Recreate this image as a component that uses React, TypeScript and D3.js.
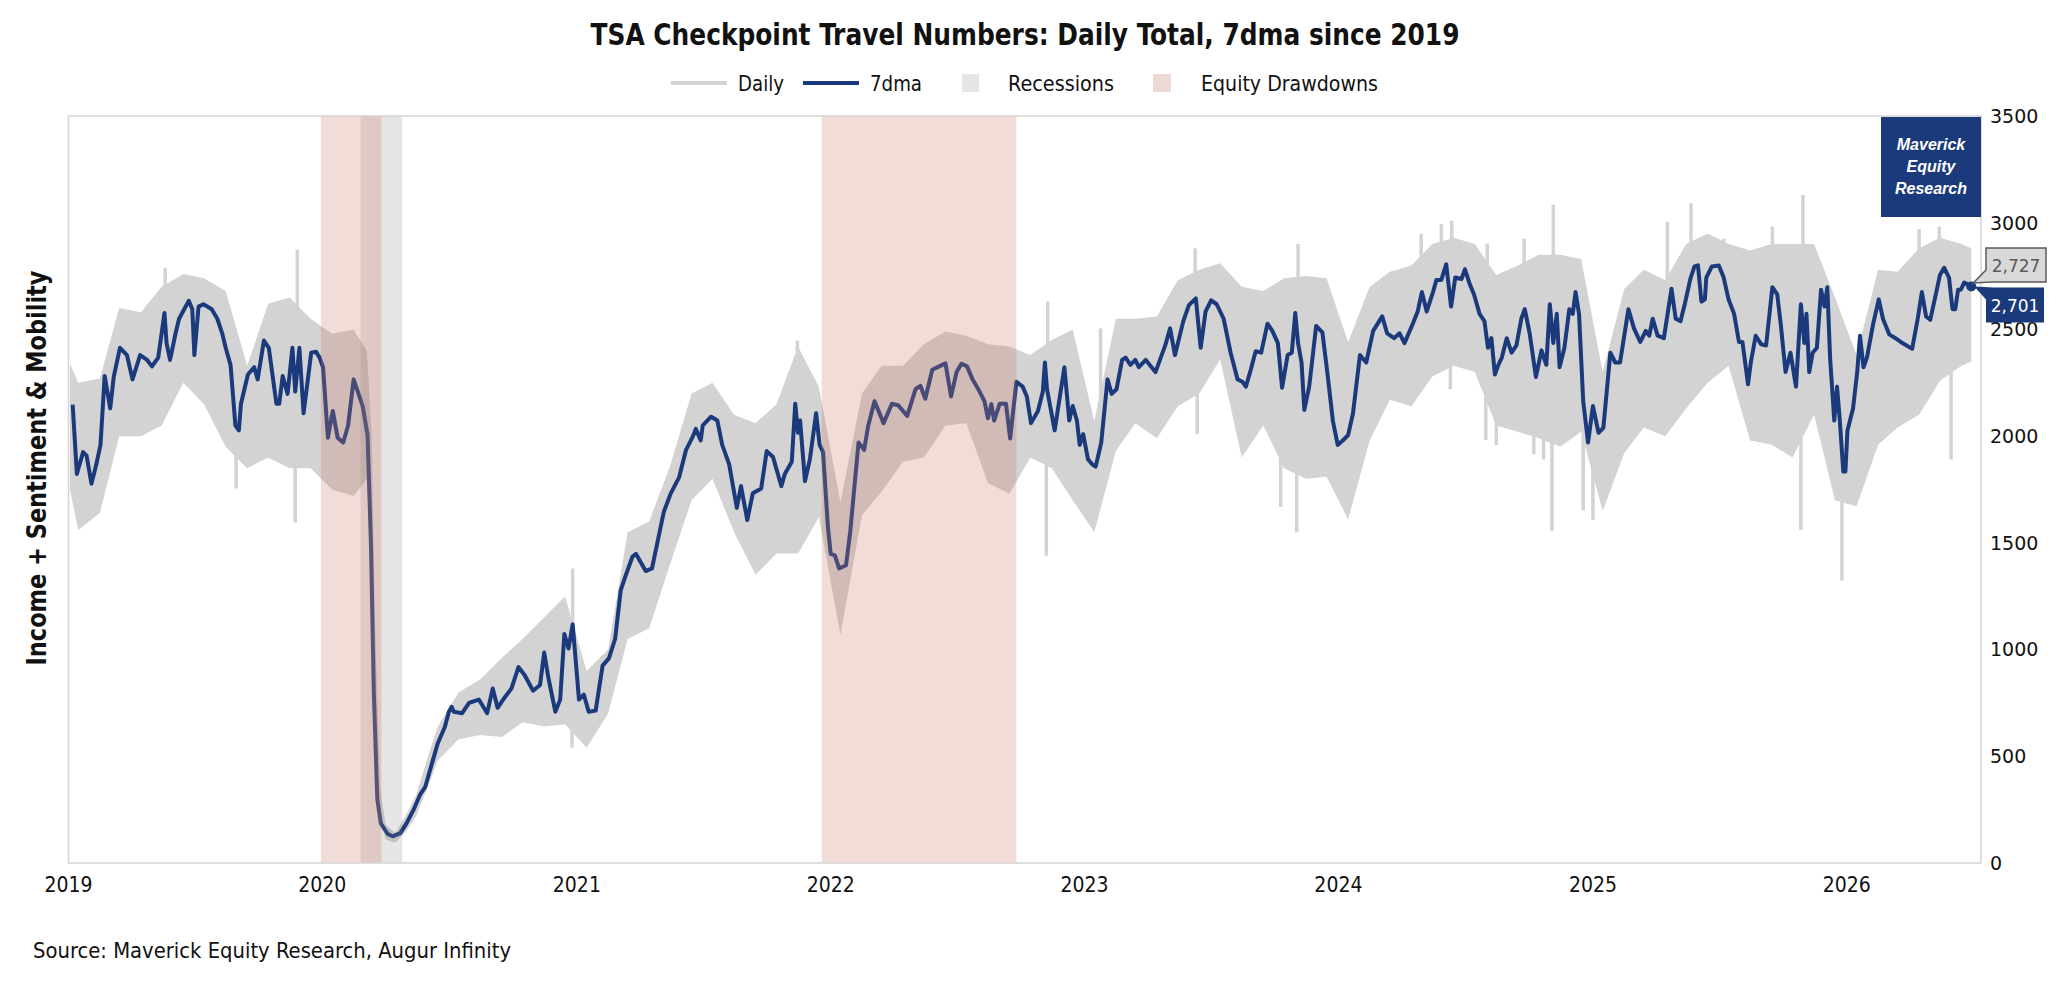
import React, { useEffect, useRef } from "react";
import * as d3 from "d3";

const WIDTH = 2066;
const HEIGHT = 985;

// 7-day moving average (thousands)
const ma7: [string, number][] = [
	["2019-01-07", 2148], ["2019-01-13", 1823], ["2019-01-17", 1868], ["2019-01-22", 1925], ["2019-01-27", 1909],
	["2019-02-03", 1777], ["2019-02-10", 1868], ["2019-02-16", 1959], ["2019-02-22", 2282], ["2019-03-02", 2130],
	["2019-03-07", 2277], ["2019-03-16", 2414], ["2019-03-26", 2380], ["2019-04-03", 2266], ["2019-04-14", 2380],
	["2019-04-24", 2357], ["2019-05-01", 2327], ["2019-05-10", 2368], ["2019-05-19", 2577], ["2019-05-22", 2436],
	["2019-05-27", 2357], ["2019-06-04", 2482], ["2019-06-09", 2550], ["2019-06-23", 2634], ["2019-06-28", 2595],
	["2019-07-01", 2380], ["2019-07-07", 2607], ["2019-07-14", 2618], ["2019-07-26", 2595], ["2019-08-03", 2550],
	["2019-08-10", 2482], ["2019-08-15", 2414], ["2019-08-22", 2334], ["2019-08-29", 2050], ["2019-09-03", 2027],
	["2019-09-06", 2152], ["2019-09-16", 2289], ["2019-09-25", 2323], ["2019-09-30", 2266], ["2019-10-09", 2448],
	["2019-10-16", 2414], ["2019-10-27", 2152], ["2019-10-31", 2152], ["2019-11-05", 2282], ["2019-11-12", 2198],
	["2019-11-19", 2414], ["2019-11-23", 2209], ["2019-11-29", 2414], ["2019-12-05", 2107], ["2019-12-16", 2391],
	["2019-12-23", 2395], ["2019-12-28", 2368], ["2020-01-02", 2323], ["2020-01-09", 1993], ["2020-01-16", 2118],
	["2020-01-23", 1993], ["2020-01-31", 1970], ["2020-02-07", 2050], ["2020-02-15", 2266], ["2020-02-21", 2209],
	["2020-02-28", 2141], ["2020-03-06", 2005], ["2020-03-11", 1482], ["2020-03-15", 800], ["2020-03-20", 300],
	["2020-03-25", 186], ["2020-04-04", 136], ["2020-04-11", 125], ["2020-04-22", 140], ["2020-05-01", 186],
	["2020-05-12", 255], ["2020-05-21", 323], ["2020-05-28", 357], ["2020-06-08", 482], ["2020-06-15", 561],
	["2020-06-25", 636], ["2020-07-01", 709], ["2020-07-05", 732], ["2020-07-08", 709], ["2020-07-20", 702],
	["2020-07-30", 750], ["2020-08-13", 766], ["2020-08-25", 702], ["2020-09-02", 818], ["2020-09-09", 727],
	["2020-09-17", 766], ["2020-09-29", 818], ["2020-10-09", 918], ["2020-10-18", 880], ["2020-10-30", 807],
	["2020-11-09", 834], ["2020-11-15", 986], ["2020-11-21", 868], ["2020-12-01", 709], ["2020-12-08", 766],
	["2020-12-14", 1073], ["2020-12-20", 1005], ["2020-12-26", 1118], ["2021-01-04", 766], ["2021-01-11", 789],
	["2021-01-18", 709], ["2021-01-28", 714], ["2021-02-07", 925], ["2021-02-16", 959], ["2021-02-25", 1050],
	["2021-03-05", 1277], ["2021-03-12", 1345], ["2021-03-22", 1436], ["2021-03-27", 1448], ["2021-04-10", 1368],
	["2021-04-19", 1380], ["2021-04-27", 1505], ["2021-05-06", 1645], ["2021-05-16", 1732], ["2021-05-28", 1807],
	["2021-06-07", 1936], ["2021-06-17", 2000], ["2021-06-21", 2034], ["2021-06-28", 1980], ["2021-07-01", 2050],
	["2021-07-13", 2091], ["2021-07-22", 2073], ["2021-07-29", 1959], ["2021-08-08", 1868], ["2021-08-19", 1664],
	["2021-08-25", 1766], ["2021-09-03", 1607], ["2021-09-11", 1732], ["2021-09-23", 1755], ["2021-10-01", 1930],
	["2021-10-10", 1902], ["2021-10-22", 1766], ["2021-10-27", 1823], ["2021-11-06", 1880], ["2021-11-11", 2152],
	["2021-11-15", 2016], ["2021-11-18", 2073], ["2021-11-25", 1789], ["2021-12-02", 1891], ["2021-12-11", 2107],
	["2021-12-16", 1959], ["2021-12-21", 1925], ["2021-12-28", 1573], ["2022-01-01", 1448], ["2022-01-07", 1441],
	["2022-01-13", 1380], ["2022-01-23", 1395], ["2022-01-29", 1550], ["2022-02-10", 1970], ["2022-02-18", 1936],
	["2022-02-24", 2050], ["2022-03-05", 2164], ["2022-03-18", 2061], ["2022-03-30", 2152], ["2022-04-08", 2145],
	["2022-04-21", 2095], ["2022-05-03", 2220], ["2022-05-10", 2236], ["2022-05-17", 2175], ["2022-05-27", 2311],
	["2022-06-06", 2327], ["2022-06-15", 2341], ["2022-06-23", 2186], ["2022-07-01", 2300], ["2022-07-08", 2339],
	["2022-07-16", 2327], ["2022-07-24", 2266], ["2022-08-03", 2209], ["2022-08-10", 2164], ["2022-08-15", 2084],
	["2022-08-20", 2150], ["2022-08-24", 2073], ["2022-09-01", 2152], ["2022-09-10", 2152], ["2022-09-16", 1989],
	["2022-09-25", 2255], ["2022-10-04", 2232], ["2022-10-10", 2186], ["2022-10-16", 2061], ["2022-10-26", 2118],
	["2022-11-02", 2209], ["2022-11-05", 2345], ["2022-11-08", 2220], ["2022-11-19", 2027], ["2022-12-03", 2323],
	["2022-12-10", 2073], ["2022-12-15", 2141], ["2022-12-21", 2073], ["2022-12-25", 1959], ["2022-12-30", 2009],
	["2023-01-06", 1891], ["2023-01-12", 1868], ["2023-01-17", 1857], ["2023-01-25", 1970], ["2023-02-03", 2266],
	["2023-02-09", 2198], ["2023-02-16", 2220], ["2023-02-24", 2357], ["2023-03-01", 2368], ["2023-03-08", 2334],
	["2023-03-15", 2357], ["2023-03-20", 2323], ["2023-03-30", 2357], ["2023-04-13", 2300], ["2023-04-27", 2425],
	["2023-05-04", 2505], ["2023-05-11", 2380], ["2023-05-23", 2539], ["2023-05-31", 2614], ["2023-06-10", 2645],
	["2023-06-17", 2414], ["2023-06-24", 2584], ["2023-07-02", 2636], ["2023-07-10", 2618], ["2023-07-20", 2550],
	["2023-07-30", 2391], ["2023-08-09", 2266], ["2023-08-16", 2255], ["2023-08-21", 2232], ["2023-08-28", 2311],
	["2023-09-04", 2398], ["2023-09-12", 2391], ["2023-09-21", 2527], ["2023-09-28", 2493], ["2023-10-06", 2436],
	["2023-10-12", 2227], ["2023-10-20", 2380], ["2023-10-26", 2391], ["2023-10-31", 2577], ["2023-11-04", 2436],
	["2023-11-09", 2345], ["2023-11-13", 2123], ["2023-11-20", 2232], ["2023-11-30", 2516], ["2023-12-09", 2486],
	["2023-12-16", 2300], ["2023-12-24", 2073], ["2023-12-31", 1959], ["2024-01-08", 1982], ["2024-01-15", 2005],
	["2024-01-22", 2107], ["2024-02-01", 2380], ["2024-02-10", 2345], ["2024-02-20", 2493], ["2024-03-04", 2561],
	["2024-03-11", 2482], ["2024-03-21", 2459], ["2024-03-29", 2482], ["2024-04-05", 2436], ["2024-04-17", 2527],
	["2024-04-24", 2584], ["2024-04-30", 2675], ["2024-05-07", 2584], ["2024-05-16", 2675], ["2024-05-21", 2732],
	["2024-05-28", 2732], ["2024-06-04", 2805], ["2024-06-11", 2607], ["2024-06-17", 2743], ["2024-06-26", 2736],
	["2024-07-01", 2782], ["2024-07-07", 2720], ["2024-07-14", 2664], ["2024-07-22", 2573], ["2024-07-29", 2539],
	["2024-08-03", 2414], ["2024-08-08", 2459], ["2024-08-13", 2289], ["2024-08-18", 2334], ["2024-08-23", 2368],
	["2024-08-30", 2459], ["2024-09-06", 2391], ["2024-09-13", 2425], ["2024-09-20", 2550], ["2024-09-25", 2595],
	["2024-10-02", 2482], ["2024-10-11", 2277], ["2024-10-19", 2402], ["2024-10-26", 2334], ["2024-10-31", 2618],
	["2024-11-05", 2436], ["2024-11-10", 2573], ["2024-11-14", 2323], ["2024-11-21", 2414], ["2024-11-28", 2595],
	["2024-12-03", 2573], ["2024-12-07", 2675], ["2024-12-12", 2573], ["2024-12-18", 2164], ["2024-12-25", 1970],
	["2025-01-01", 2141], ["2025-01-09", 2016], ["2025-01-16", 2039], ["2025-01-26", 2391], ["2025-02-02", 2345],
	["2025-02-09", 2345], ["2025-02-21", 2595], ["2025-03-01", 2505], ["2025-03-10", 2441], ["2025-03-18", 2493],
	["2025-03-23", 2471], ["2025-03-28", 2550], ["2025-04-04", 2471], ["2025-04-13", 2459], ["2025-04-24", 2691],
	["2025-04-30", 2550], ["2025-05-07", 2539], ["2025-05-13", 2618], ["2025-05-21", 2736], ["2025-05-27", 2795],
	["2025-06-01", 2800], ["2025-06-06", 2630], ["2025-06-11", 2641], ["2025-06-13", 2743], ["2025-06-21", 2795],
	["2025-07-01", 2800], ["2025-07-08", 2743], ["2025-07-15", 2641], ["2025-07-23", 2573], ["2025-07-30", 2441],
	["2025-08-04", 2441], ["2025-08-12", 2243], ["2025-08-16", 2345], ["2025-08-23", 2470], ["2025-08-31", 2430],
	["2025-09-07", 2425], ["2025-09-16", 2698], ["2025-09-23", 2664], ["2025-09-28", 2527], ["2025-10-05", 2300],
	["2025-10-12", 2391], ["2025-10-20", 2232], ["2025-10-27", 2618], ["2025-11-01", 2436], ["2025-11-04", 2573],
	["2025-11-08", 2300], ["2025-11-13", 2391], ["2025-11-19", 2414], ["2025-11-25", 2686], ["2025-11-30", 2607],
	["2025-12-04", 2698], ["2025-12-08", 2368], ["2025-12-14", 2073], ["2025-12-18", 2232], ["2025-12-22", 2073],
	["2025-12-27", 1834], ["2025-12-30", 1834], ["2026-01-02", 2027], ["2026-01-10", 2130], ["2026-01-16", 2300],
	["2026-01-20", 2470], ["2026-01-25", 2323], ["2026-01-30", 2368], ["2026-02-08", 2527], ["2026-02-16", 2641],
	["2026-02-22", 2550], ["2026-03-03", 2477], ["2026-03-12", 2459], ["2026-03-22", 2436], ["2026-04-05", 2409],
	["2026-04-13", 2550], ["2026-04-19", 2675], ["2026-04-25", 2561], ["2026-05-01", 2545], ["2026-05-09", 2664],
	["2026-05-15", 2755], ["2026-05-21", 2789], ["2026-05-28", 2743], ["2026-06-02", 2595], ["2026-06-06", 2595],
	["2026-06-10", 2686], ["2026-06-14", 2686], ["2026-06-19", 2720], ["2026-06-29", 2701],
];

// daily series: typical upper / lower swing of the daily readings
const dailyBand: [string, number, number][] = [
	["2019-01-03", 2340, 1750], ["2019-01-15", 2250, 1560], ["2019-02-15", 2270, 1640], ["2019-03-15", 2600, 2000],
	["2019-04-15", 2580, 2000], ["2019-05-15", 2700, 2050], ["2019-06-15", 2760, 2250], ["2019-07-15", 2740, 2150],
	["2019-08-15", 2680, 1950], ["2019-09-15", 2330, 1850], ["2019-10-15", 2620, 1900], ["2019-11-15", 2650, 1850],
	["2019-12-15", 2550, 1850], ["2020-01-15", 2480, 1750], ["2020-02-15", 2500, 1720], ["2020-03-05", 2400, 1800],
	["2020-03-12", 2000, 1400], ["2020-03-17", 1100, 700], ["2020-03-24", 350, 230], ["2020-04-01", 180, 110],
	["2020-04-15", 140, 95], ["2020-05-01", 230, 150], ["2020-05-15", 320, 220], ["2020-06-01", 500, 360],
	["2020-06-15", 640, 480], ["2020-07-15", 800, 580], ["2020-08-15", 860, 600], ["2020-09-15", 960, 590],
	["2020-10-15", 1050, 660], ["2020-11-15", 1150, 640], ["2020-12-15", 1250, 650], ["2021-01-15", 900, 540],
	["2021-02-15", 1000, 700], ["2021-03-15", 1550, 1050], ["2021-04-15", 1600, 1100], ["2021-05-15", 1860, 1400],
	["2021-06-15", 2200, 1700], ["2021-07-15", 2250, 1800], ["2021-08-15", 2100, 1550], ["2021-09-15", 2060, 1350],
	["2021-10-15", 2150, 1450], ["2021-11-15", 2420, 1450], ["2021-12-15", 2230, 1620], ["2022-01-15", 1690, 1070],
	["2022-02-15", 2200, 1630], ["2022-03-15", 2330, 1740], ["2022-04-15", 2330, 1880], ["2022-05-15", 2430, 1900],
	["2022-06-15", 2490, 2050], ["2022-07-15", 2470, 2060], ["2022-08-15", 2430, 1780], ["2022-09-15", 2420, 1730],
	["2022-10-15", 2380, 1900], ["2022-11-15", 2450, 1850], ["2022-12-15", 2500, 1700], ["2023-01-15", 2070, 1550],
	["2023-02-15", 2550, 1930], ["2023-03-15", 2550, 2060], ["2023-04-15", 2560, 1990], ["2023-05-15", 2730, 2140],
	["2023-06-15", 2780, 2200], ["2023-07-15", 2810, 2360], ["2023-08-15", 2700, 1900], ["2023-09-15", 2680, 2050],
	["2023-10-15", 2740, 1850], ["2023-11-15", 2750, 1800], ["2023-12-15", 2740, 1810], ["2024-01-15", 2440, 1610],
	["2024-02-15", 2700, 1980], ["2024-03-15", 2770, 2170], ["2024-04-15", 2800, 2140], ["2024-05-15", 2900, 2280],
	["2024-06-15", 2930, 2330], ["2024-07-15", 2900, 2300], ["2024-08-15", 2755, 2050], ["2024-09-15", 2800, 2020],
	["2024-10-15", 2850, 1990], ["2024-11-15", 2850, 1950], ["2024-12-15", 2830, 2020], ["2025-01-15", 2300, 1650],
	["2025-02-15", 2690, 1920], ["2025-03-15", 2780, 2040], ["2025-04-15", 2730, 2000], ["2025-05-15", 2900, 2130],
	["2025-06-15", 2950, 2250], ["2025-07-15", 2900, 2330], ["2025-08-15", 2870, 1980], ["2025-09-15", 2900, 1960],
	["2025-10-15", 2900, 1900], ["2025-11-15", 2900, 2100], ["2025-12-15", 2650, 1700], ["2026-01-15", 2380, 1670],
	["2026-02-15", 2780, 1960], ["2026-03-15", 2770, 2040], ["2026-04-15", 2880, 2100], ["2026-05-15", 2930, 2260],
	["2026-06-15", 2900, 2330], ["2026-06-29", 2880, 2350],
];

// single-day outliers that stick out of the band
const dailySpikes: [string, number][] = [
	["2019-05-20", 2789], ["2019-08-30", 1755], ["2019-11-23", 1595], ["2019-11-26", 2873],
	["2020-12-25", 540], ["2020-12-26", 1380], ["2021-11-14", 2448], ["2022-11-07", 1440],
	["2022-11-09", 2630], ["2023-01-24", 2505], ["2023-06-09", 2880], ["2023-06-12", 2009],
	["2023-10-10", 1668], ["2023-11-02", 1550], ["2023-11-04", 2900], ["2024-04-29", 2948],
	["2024-05-28", 2993], ["2024-06-10", 2220], ["2024-06-12", 3009], ["2024-07-31", 1982],
	["2024-08-02", 2902], ["2024-08-15", 1959], ["2024-09-24", 2925], ["2024-10-08", 1914],
	["2024-10-22", 1891], ["2024-11-03", 1555], ["2024-11-05", 3084], ["2024-12-18", 1652],
	["2025-01-01", 1607], ["2025-02-04", 1880], ["2025-04-18", 3005], ["2025-05-22", 3091],
	["2025-07-08", 2925], ["2025-09-16", 2982], ["2025-10-27", 1561], ["2025-10-30", 3130],
	["2025-12-25", 1323], ["2026-04-15", 2970], ["2026-05-14", 2982], ["2026-05-31", 1891],
];

const recessions: [string, string][] = [["2020-02-25", "2020-04-25"]];
const drawdowns: [string, string][] = [
	["2019-12-30", "2020-03-26"],
	["2021-12-19", "2022-09-25"],
];

const yTicks = [0, 500, 1000, 1500, 2000, 2500, 3000, 3500];
const xYears = [2019, 2020, 2021, 2022, 2023, 2024, 2025, 2026];
const lastDaily = 2727;
const lastMa = 2701;

const NAVY = "#1b3a7c";
const DAILY = "#d3d3d3";
const NARROW = '"Liberation Sans Narrow", "DejaVu Sans Condensed", "Roboto", sans-serif';
const WIDE = '"DejaVu Sans", Verdana, sans-serif';

const parse = d3.timeParse("%Y-%m-%d");

const App = () => {
	const svgRef = useRef<SVGSVGElement | null>(null);

	useEffect(() => {
		if (!svgRef.current) return;
		const svg = d3.select(svgRef.current);
		svg.selectAll("*").remove();

		const plot = { left: 68.5, right: 1981, top: 116, bottom: 863 };

		const x = d3
			.scaleTime()
			.domain([parse("2019-01-01")!, parse("2026-07-13")!])
			.range([plot.left, plot.right]);
		const y = d3.scaleLinear().domain([0, 3500]).range([plot.bottom, plot.top]);

		const maData = ma7.map(([d, v]) => ({ date: parse(d)!, value: v }));
		const bandData = dailyBand.map(([d, hi, lo]) => ({ date: parse(d)!, hi, lo }));

		// title
		svg.append("text")
			.attr("x", 1025)
			.attr("y", 45)
			.attr("text-anchor", "middle")
			.attr("font-family", NARROW)
			.attr("font-weight", "bold")
			.attr("font-size", 30)
			.attr("textLength", 869)
			.attr("lengthAdjust", "spacingAndGlyphs")
			.attr("fill", "#111")
			.text("TSA Checkpoint Travel Numbers: Daily Total, 7dma since 2019");

		// legend
		const lg = svg.append("g").attr("font-family", NARROW).attr("font-size", 21).attr("fill", "#111");
		lg.append("line").attr("x1", 671).attr("x2", 727).attr("y1", 83).attr("y2", 83)
			.attr("stroke", DAILY).attr("stroke-width", 4);
		lg.append("text").attr("x", 738).attr("y", 91).attr("textLength", 46)
			.attr("lengthAdjust", "spacingAndGlyphs").text("Daily");
		lg.append("line").attr("x1", 803).attr("x2", 859).attr("y1", 83).attr("y2", 83)
			.attr("stroke", NAVY).attr("stroke-width", 4);
		lg.append("text").attr("x", 870).attr("y", 91).attr("textLength", 52)
			.attr("lengthAdjust", "spacingAndGlyphs").text("7dma");
		lg.append("rect").attr("x", 962).attr("y", 74).attr("width", 17).attr("height", 18).attr("fill", "#e6e6e6");
		lg.append("text").attr("x", 1008).attr("y", 91).attr("textLength", 106)
			.attr("lengthAdjust", "spacingAndGlyphs").text("Recessions");
		lg.append("rect").attr("x", 1153).attr("y", 74).attr("width", 18).attr("height", 18).attr("fill", "#eed9d5");
		lg.append("text").attr("x", 1201).attr("y", 91).attr("textLength", 177)
			.attr("lengthAdjust", "spacingAndGlyphs").text("Equity Drawdowns");

		const g = svg.append("g");

		// daily band
		const band = d3
			.area<{ date: Date; hi: number; lo: number }>()
			.x((d) => x(d.date))
			.y0((d) => y(d.lo))
			.y1((d) => y(d.hi));
		g.append("path").datum(bandData).attr("d", band).attr("fill", DAILY);

		// daily spikes, drawn from the moving average out to the outlier
		const bis = d3.bisector((d: { date: Date }) => d.date).left;
		const maAt = (dt: Date) => {
			const i = Math.max(1, Math.min(maData.length - 1, bis(maData, dt)));
			const a = maData[i - 1];
			const b = maData[i];
			const t = (+dt - +a.date) / (+b.date - +a.date);
			return a.value + (b.value - a.value) * Math.max(0, Math.min(1, t));
		};
		g.selectAll(".spike")
			.data(dailySpikes)
			.join("line")
			.attr("x1", (d) => x(parse(d[0])!))
			.attr("x2", (d) => x(parse(d[0])!))
			.attr("y1", (d) => y(maAt(parse(d[0])!)))
			.attr("y2", (d) => y(d[1]))
			.attr("stroke", DAILY)
			.attr("stroke-width", 3.5);

		// 7dma
		const line = d3
			.line<{ date: Date; value: number }>()
			.x((d) => x(d.date))
			.y((d) => y(d.value));
		g.append("path")
			.datum(maData)
			.attr("d", line)
			.attr("fill", "none")
			.attr("stroke", NAVY)
			.attr("stroke-width", 4)
			.attr("stroke-linejoin", "round");

		// shading sits above the lines, semi-transparent
		g.selectAll(".rec")
			.data(recessions)
			.join("rect")
			.attr("x", (d) => x(parse(d[0])!))
			.attr("width", (d) => x(parse(d[1])!) - x(parse(d[0])!))
			.attr("y", plot.top)
			.attr("height", plot.bottom - plot.top)
			.attr("fill", "rgba(128,128,128,0.2)");
		g.selectAll(".dd")
			.data(drawdowns)
			.join("rect")
			.attr("x", (d) => x(parse(d[0])!))
			.attr("width", (d) => x(parse(d[1])!) - x(parse(d[0])!))
			.attr("y", plot.top)
			.attr("height", plot.bottom - plot.top)
			.attr("fill", "rgba(200,118,104,0.26)");

		// plot frame
		svg.append("rect")
			.attr("x", plot.left)
			.attr("y", plot.top)
			.attr("width", plot.right - plot.left)
			.attr("height", plot.bottom - plot.top)
			.attr("fill", "none")
			.attr("stroke", "#d4d4d4")
			.attr("stroke-width", 1.5);

		// x labels
		svg.append("g")
			.selectAll("text")
			.data(xYears)
			.join("text")
			.attr("x", (d) => x(new Date(d, 0, 1)))
			.attr("y", 892)
			.attr("text-anchor", "middle")
			.attr("font-family", NARROW)
			.attr("font-size", 21)
			.attr("fill", "#111")
			.text((d) => d);

		// right y labels
		svg.append("g")
			.selectAll("text")
			.data(yTicks)
			.join("text")
			.attr("x", 1990)
			.attr("y", (d) => y(d))
			.attr("dy", "0.36em")
			.attr("font-family", WIDE)
			.attr("font-size", 19)
			.attr("fill", "#111")
			.text((d) => d);

		// y title
		svg.append("text")
			.attr("transform", "translate(37,468) rotate(-90)")
			.attr("text-anchor", "middle")
			.attr("dy", "0.35em")
			.attr("font-family", NARROW)
			.attr("font-weight", 600)
			.attr("font-size", 27)
			.attr("textLength", 395)
			.attr("lengthAdjust", "spacingAndGlyphs")
			.attr("fill", "#111")
			.text("Income + Sentiment & Mobility");

		// source
		svg.append("text")
			.attr("x", 33)
			.attr("y", 958)
			.attr("font-family", NARROW)
			.attr("font-size", 21)
			.attr("textLength", 478)
			.attr("lengthAdjust", "spacingAndGlyphs")
			.attr("fill", "#111")
			.text("Source: Maverick Equity Research, Augur Infinity");

		// logo box
		svg.append("rect").attr("x", 1881).attr("y", 117).attr("width", 100).attr("height", 100).attr("fill", NAVY);
		["Maverick", "Equity", "Research"].forEach((t, i) => {
			svg.append("text")
				.attr("x", 1931)
				.attr("y", 144 + i * 22)
				.attr("dy", "0.35em")
				.attr("text-anchor", "middle")
				.attr("font-family", '"Liberation Sans", Arial, sans-serif')
				.attr("font-weight", "bold")
				.attr("font-style", "italic")
				.attr("font-size", 16)
				.attr("fill", "#fff")
				.text(t);
		});

		// end marker and value callouts
		const last = maData[maData.length - 1];
		const ex = x(last.date);
		const eyMa = y(lastMa);
		const eyDaily = y(lastDaily);
		svg.append("circle").attr("cx", ex).attr("cy", eyMa).attr("r", 5).attr("fill", NAVY);

		const gTop = eyDaily - 33;
		svg.append("path")
			.attr("d", `M1986,${gTop} L2046,${gTop} L2046,${gTop + 34} L1992,${gTop + 34} L${ex + 2},${eyDaily + 2} L1986,${gTop + 22} Z`)
			.attr("fill", "#d9d9d9")
			.attr("stroke", "#595959")
			.attr("stroke-width", 1.5);
		svg.append("text")
			.attr("x", 2016)
			.attr("y", gTop + 18)
			.attr("dy", "0.36em")
			.attr("text-anchor", "middle")
			.attr("font-family", WIDE)
			.attr("font-size", 17)
			.attr("fill", "#595959")
			.text(d3.format(",")(lastDaily));

		const nTop = eyMa + 1;
		svg.append("path")
			.attr("d", `M${ex + 3},${eyMa} L1994,${nTop} L2044,${nTop} L2044,${nTop + 35} L1986,${nTop + 35} L1986,${nTop + 12} Z`)
			.attr("fill", NAVY);
		svg.append("text")
			.attr("x", 2015)
			.attr("y", nTop + 18)
			.attr("dy", "0.36em")
			.attr("text-anchor", "middle")
			.attr("font-family", WIDE)
			.attr("font-size", 17)
			.attr("fill", "#fff")
			.text(d3.format(",")(lastMa));
	}, []);

	return (
		<svg
			ref={svgRef}
			width={WIDTH}
			height={HEIGHT}
			style={{ position: "absolute", left: 0, top: 0, background: "#fff" }}
		></svg>
	);
};

export default App;
